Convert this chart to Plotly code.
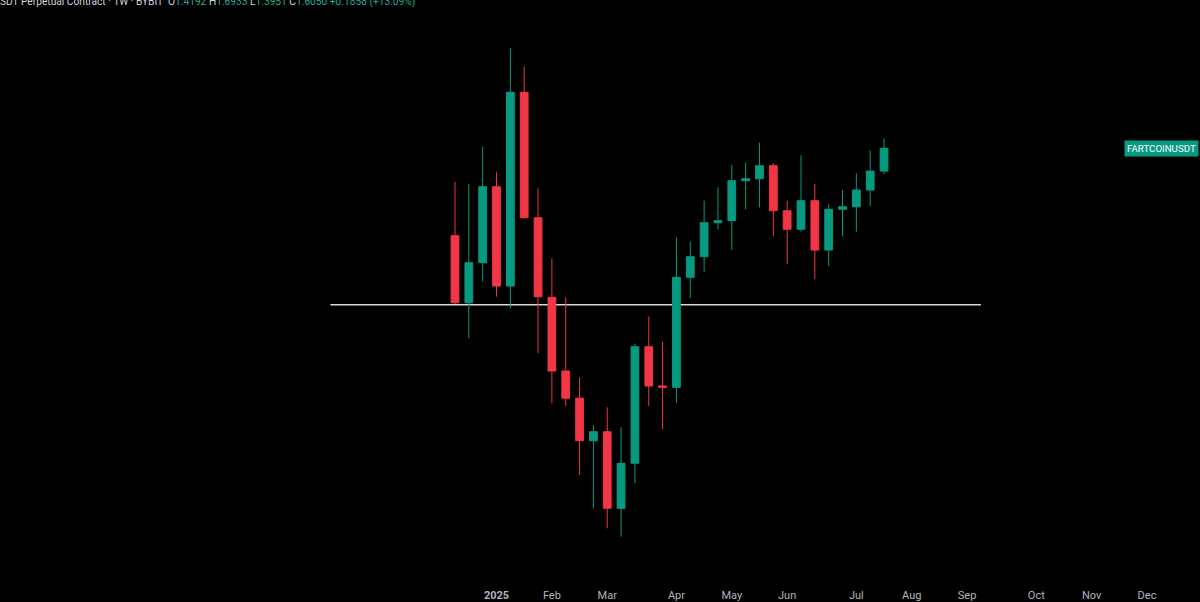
import math
import pandas as pd
import plotly.graph_objects as go

# ---- data (weekly FARTCOINUSDT, Bybit perpetual) ----
week_dates = [
    "2024-12-16", "2024-12-23", "2024-12-30", "2025-01-06", "2025-01-13", "2025-01-20",
    "2025-01-27", "2025-02-03", "2025-02-10", "2025-02-17", "2025-02-24", "2025-03-03",
    "2025-03-10", "2025-03-17", "2025-03-24", "2025-03-31", "2025-04-07", "2025-04-14",
    "2025-04-21", "2025-04-28", "2025-05-05", "2025-05-12", "2025-05-19", "2025-05-26",
    "2025-06-02", "2025-06-09", "2025-06-16", "2025-06-23", "2025-06-30", "2025-07-07",
    "2025-07-14", "2025-07-21",
]
opens = [1.0020, 0.6982, 0.8662, 1.3049, 0.7640, 2.1706, 1.1041, 0.7188, 0.4831, 0.4174,
         0.3318, 0.3483, 0.2305, 0.2938, 0.5508, 0.4456, 0.4425, 0.8007, 0.8947, 1.0748,
         1.0864, 1.3478, 1.3624, 1.4613, 1.1465, 1.0371, 1.2101, 0.9276, 1.1552, 1.1715,
         1.2819, 1.4192]
highs = [1.3405, 1.3240, 1.6189, 1.4102, 2.7520, 2.4919, 1.2937, 0.8870, 0.7188, 0.4670,
         0.3606, 0.3973, 0.3567, 0.5588, 0.6475, 0.5658, 0.9923, 0.9701, 1.2101, 1.3007,
         1.4668, 1.4851, 1.6542, 1.4803, 1.2101, 1.5456, 1.3240, 1.1888, 1.2819, 1.4026,
         1.5844, 1.6933]
lows = [0.6933, 0.5763, 0.7819, 0.7212, 0.6775, 1.0964, 0.5324, 0.4060, 0.4001, 0.2758,
        0.2305, 0.2069, 0.1978, 0.2637, 0.4001, 0.3529, 0.4073, 0.7150, 0.8252, 1.0371,
        0.9276, 1.1552, 1.1677, 1.0004, 0.8602, 1.0238, 0.7921, 0.8510, 1.0004, 1.0238,
        1.1759, 1.3951]
closes = [0.6982, 0.8662, 1.3049, 0.7640, 2.1706, 1.1041, 0.7212, 0.4831, 0.4174, 0.3318,
          0.3483, 0.2305, 0.2938, 0.5508, 0.4456, 0.4425, 0.8007, 0.8947, 1.0748, 1.0864,
          1.3478, 1.3624, 1.4613, 1.1465, 1.0371, 1.2101, 0.9276, 1.1552, 1.1715, 1.2819,
          1.4192, 1.6050]

support_price = 0.691
support_start = "2024-10-14"
support_end = "2025-09-08"

tick_dates = ["2025-01-06", "2025-02-03", "2025-03-03", "2025-04-07", "2025-05-05",
              "2025-06-02", "2025-07-07", "2025-08-04", "2025-09-01", "2025-10-06",
              "2025-11-03", "2025-12-01"]
tick_labels = ["<b>2025</b>", "Feb", "Mar", "Apr", "May", "Jun", "Jul", "Aug", "Sep",
               "Oct", "Nov", "Dec"]

symbol_label = "FARTCOINUSDT"
header_title = "SDT Perpetual Contract · 1W · BYBIT"
header_keys = ["O", "H", "L", "C"]
header_vals = ["1.4192", "1.6933", "1.3951", "1.6050"]
header_change = "+0.1858 (+13.09%)"

# ---- styling / layout ----
W, H = 1200, 602
MB = 15
GREEN = "#089981"
RED = "#F23645"
BG = "#000000"
GREY = "#d1d4dc"
VAL_GREEN = "#22ab94"

first = pd.Timestamp(week_dates[0])
px_per_week = 13.84
first_px = 455.0
x0 = first - pd.Timedelta(days=7 * first_px / px_per_week)
x1 = first + pd.Timedelta(days=7 * (W - first_px) / px_per_week)

plot_h = H - MB
px_per_ln = 185.5
anchor_px = 148.3
ln_anchor = math.log(closes[-1])
ln_top = ln_anchor + anchor_px / px_per_ln
ln_bot = ln_anchor - (plot_h - anchor_px) / px_per_ln
y_range = [ln_bot / math.log(10), ln_top / math.log(10)]

fig = go.Figure()
fig.add_trace(go.Candlestick(
    x=week_dates, open=opens, high=highs, low=lows, close=closes,
    increasing=dict(line=dict(color=GREEN, width=1), fillcolor=GREEN),
    decreasing=dict(line=dict(color=RED, width=1), fillcolor=RED),
    whiskerwidth=0, hoverinfo="skip", showlegend=False,
))

fig.add_shape(type="line", xref="x", yref="y",
              x0=support_start, x1=support_end,
              y0=support_price, y1=support_price,
              line=dict(color="#d9d9d9", width=1.5), layer="below")

fig.add_annotation(xref="paper", yref="y", x=1, y=math.log10(closes[-1]),
                   xanchor="right", yanchor="middle", xshift=-1,
                   text=symbol_label, showarrow=False,
                   font=dict(family="Roboto, Arial, sans-serif", size=9.7, color="#ffffff"),
                   bgcolor=GREEN, borderpad=2)

header_html = f"<span style='color:{GREY}'>{header_title}</span>  " + " ".join(
    f"<span style='color:{GREY}'>{k}</span>{v}" for k, v in zip(header_keys, header_vals)
) + f" {header_change}"
fig.add_annotation(xref="paper", yref="paper", x=0, y=1,
                   xanchor="left", yanchor="middle", xshift=-2, yshift=-1.5,
                   text=header_html, showarrow=False,
                   font=dict(family="Roboto, Arial, sans-serif", size=10.2, color=VAL_GREEN))

fig.update_layout(
    width=W, height=H,
    paper_bgcolor=BG, plot_bgcolor=BG,
    margin=dict(l=0, r=0, t=0, b=MB),
    boxgap=0.2,
    xaxis=dict(
        type="date", range=[x0, x1], rangeslider=dict(visible=False),
        showgrid=False, zeroline=False, showline=False, automargin=False,
        tickmode="array", tickvals=tick_dates, ticktext=tick_labels,
        tickfont=dict(family="Roboto, Arial, sans-serif", size=11, color="#b2b5be"),
        ticks="", fixedrange=True,
    ),
    yaxis=dict(
        type="log", range=y_range, showgrid=False, zeroline=False, automargin=False,
        showline=False, showticklabels=False, ticks="", fixedrange=True,
    ),
    showlegend=False,
)

fig.write_html(
    "out.html",
    config={"displayModeBar": False, "staticPlot": True},
    post_script="document.body.style.margin='0px';document.body.style.background='#000000';",
)
